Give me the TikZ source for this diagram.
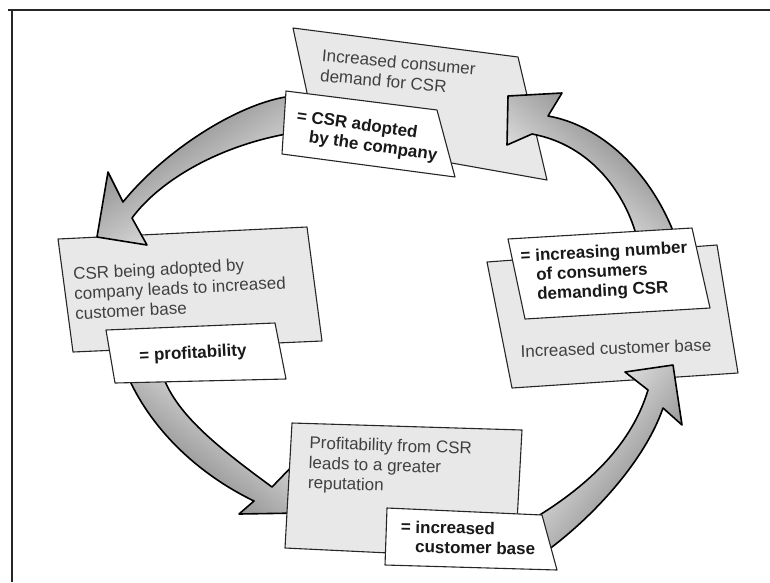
\documentclass[tikz,border=0pt]{standalone}
\usepackage{fontspec}
\setmainfont{Liberation Sans}
\usetikzlibrary{positioning}

\tikzset{
  greybox/.style={draw=black!85, line width=1.1pt, fill=black!9, line join=round},
  whitebox/.style={draw=black!85, line width=1.1pt, fill=white, line join=round},
  plaintxt/.style={font=\fontsize{17}{20}\selectfont, align=left, inner sep=0pt, text=black!75},
  boldtxt/.style={font=\fontsize{17}{19.5}\selectfont\bfseries, align=left, inner sep=0pt, text=black!90},
  flow/.style={draw=black, line width=1.6pt, line join=round, left color=white, right color=black!55}
}

\newcommand{\eqlines}[2]{\begin{tabular}{@{}l@{ }l@{}}=&#1\\&#2\end{tabular}}

\begin{document}
\begin{tikzpicture}[x=1pt,y=-1pt]
  \useasboundingbox (0,0) rectangle (770,582);

  \draw[line width=2.4pt, black!85] (8,10) -- (770,10);
  \draw[line width=2pt, black!85] (11.5,9) -- (11.5,582);

  \draw[greybox] (293,28) -- (518,57) -- (547,180) -- (317,139) -- cycle;
  \draw[greybox] (58,239) -- (307,227) -- (322,341) -- (73,352) -- cycle;
  \draw[greybox] (487,262) -- (717,245) -- (738,373) -- (512,388) -- cycle;

  \coordinate (tailA1) at (292,96);
  \coordinate (tailA2) at (292,133);
  \coordinate (tailB1) at (126,372);
  \coordinate (tailB2) at (160,366);
  \coordinate (tailC1) at (538,516);
  \coordinate (tailC2) at (548,550);
  \coordinate (tailD1) at (675,236);
  \coordinate (tailD2) at (637,238);

  \path[flow, shading angle=213] (tailA1) .. controls (240,102) and (165,150) .. (123,202)
    -- (108,172) -- (97,237) -- (147,245) -- (132,218)
    .. controls (160,180) and (220,145) .. (tailA2) -- cycle;
  \path[flow, shading angle=322] (tailB1) .. controls (150,430) and (200,475) .. (254,501)
    -- (239,514) -- (300,513) -- (300,458) -- (272,487)
    .. controls (215,445) and (170,410) .. (tailB2) -- cycle;
  \path[flow, shading angle=52] (tailC1) .. controls (580,490) and (630,450) .. (648,390)
    -- (625,372) -- (673,365) -- (682,425) -- (663,408)
    .. controls (645,460) and (595,515) .. (tailC2) -- cycle;
  \path[flow, shading angle=140] (tailD1) .. controls (650,170) and (600,125) .. (548,116)
    -- (562,93) -- (508,96) -- (507,145) -- (532,134)
    .. controls (592,145) and (626,195) .. (tailD2) -- cycle;

  \draw[greybox] (292,423) -- (522,430) -- (515,559) -- (285,548) -- cycle;

  \draw[whitebox] (286,91) -- (437,110) -- (455,177) -- (282,154) -- cycle;
  \draw[whitebox] (106,330) -- (275,323) -- (286,379) -- (115,383) -- cycle;
  \draw[whitebox] (387,508) -- (542,515) -- (557,570) -- (385,565) -- cycle;
  \draw[whitebox] (508,239) -- (692,228) -- (710,308) -- (525,319) -- cycle;

  \node[plaintxt, rotate=-5] (demand) at (398,72) {Increased consumer\\demand for CSR};
  \node[boldtxt, rotate=-8] (adopted) at (367,137) {\eqlines{CSR adopted}{by the company}};
  \node[plaintxt, rotate=3] (leads) at (180,288) {CSR being adopted by\\company leads to increased\\customer base};
  \node[boldtxt, rotate=3] (profit) at (193,354) {= profitability};
  \node[plaintxt, rotate=-2] (reput) at (390,467) {Profitability from CSR\\leads to a greater\\reputation};
  \node[boldtxt, rotate=-1] (custbase) at (468,540) {\eqlines{increased}{customer base}};
  \node[plaintxt, rotate=2] (incbase) at (616,348) {Increased customer base};
  \node[boldtxt, rotate=3] (number) at (605,273) {\eqlines{increasing number}{of consumers\\&demanding CSR}};
\end{tikzpicture}
\end{document}
